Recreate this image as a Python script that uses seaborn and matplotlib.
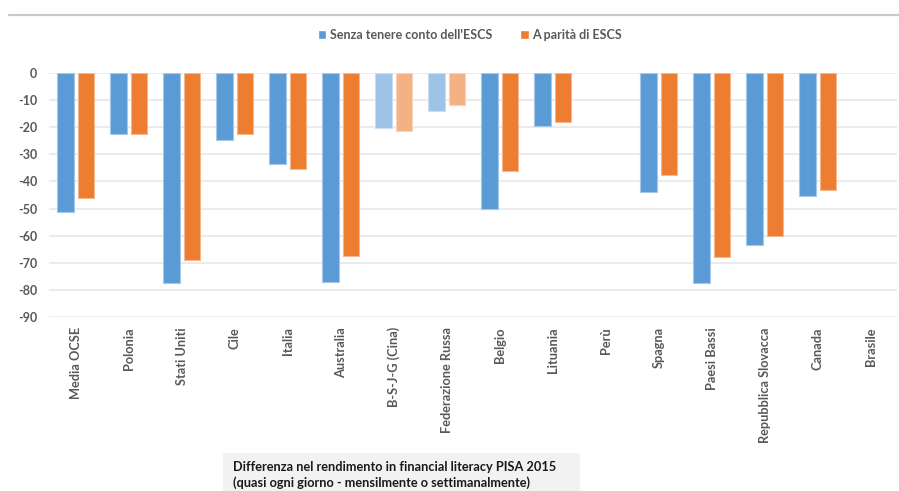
import matplotlib
matplotlib.use("Agg")
import matplotlib.pyplot as plt
from matplotlib.lines import Line2D
from matplotlib.patches import Rectangle
import matplotlib.colors as mcolors
import numpy as np
import pandas as pd
import seaborn as sns

# Differenza di punteggio (financial literacy, PISA 2015)
paesi = ["Media OCSE", "Polonia", "Stati Uniti", "Cile", "Italia", "Australia",
         "B-S-J-G (Cina)", "Federazione Russa", "Belgio", "Lituania", "Perù",
         "Spagna", "Paesi Bassi", "Repubblica Slovacca", "Canada", "Brasile"]
senza_escs = [-51.4, -22.7, -77.4, -24.6, -33.6, -76.9, -20.3, -14.2, -50.0,
              -19.5, np.nan, -43.8, -77.3, -63.4, -45.4, np.nan]
parita_escs = [-46.1, -22.7, -68.9, -22.7, -35.4, -67.3, -21.3, -11.8, -36.2,
               -18.0, np.nan, -37.8, -67.9, -60.1, -43.2, np.nan]
serie = ["Senza tenere conto dell'ESCS", "A parità di ESCS"]
paesi_chiari = ["B-S-J-G (Cina)", "Federazione Russa"]
y_ticks = list(range(0, -91, -10))

BLU = "#5B9BD5"
ARANCIO = "#ED7D31"
BLU_CHIARO = "#9DC3E6"
ARANCIO_CHIARO = "#F4B183"
GRIGIO_TESTO = "#595959"

df = pd.DataFrame({
    "Paese": paesi * 2,
    "Valore": senza_escs + parita_escs,
    "Serie": [serie[0]] * len(paesi) + [serie[1]] * len(paesi),
})

sns.set_style("white")
plt.rcParams["font.family"] = ["Lato", "DejaVu Sans"]

fig = plt.figure(figsize=(8.99, 4.91), dpi=100)
W, H = 899, 491
ax = fig.add_axes([49.3 / W, 1 - 317.3 / H, (897.3 - 49.3) / W, (317.3 - 72.7) / H])

sns.barplot(data=df, x="Paese", y="Valore", hue="Serie", order=paesi,
            hue_order=serie, palette=[BLU, ARANCIO], width=0.78, gap=0.2,
            errorbar=None, legend=False, ax=ax)


def schiarisci(c, f=0.45):
    r, g, b = mcolors.to_rgb(c)
    return (r + (1 - r) * f, g + (1 - g) * f, b + (1 - b) * f)


for p in ax.patches:
    h = p.get_height()
    if not np.isfinite(h):
        continue
    cx = p.get_x() + p.get_width() / 2
    idx = int(round(cx))
    primo = cx < idx
    if paesi[idx] in paesi_chiari:
        col = BLU_CHIARO if primo else ARANCIO_CHIARO
    else:
        col = BLU if primo else ARANCIO
    p.set_facecolor(col)
    p.set_edgecolor(schiarisci(col))
    p.set_linewidth(0.8)

ax.set_ylim(-90, 0)
ax.set_xlim(-0.5, len(paesi) - 0.5)
ax.set_yticks(y_ticks)
ax.set_yticklabels([str(t) for t in y_ticks])
ax.yaxis.grid(True, color="#E8E8E8", linewidth=1.2)
ax.xaxis.grid(False)
ax.set_axisbelow(True)
for s in ax.spines.values():
    s.set_visible(False)
ax.set_xlabel("")
ax.set_ylabel("")
ax.tick_params(axis="y", length=0, pad=8.5, labelsize=9, labelcolor=GRIGIO_TESTO)
ax.tick_params(axis="x", length=0, pad=7, labelsize=9.2, labelcolor=GRIGIO_TESTO,
               labelrotation=90)
for lab in ax.get_yticklabels() + ax.get_xticklabels():
    lab.set_fontweight("bold")
for lab in ax.get_xticklabels():
    lab.set_va("top")

# legenda in alto
maniglie = [Rectangle((0, 0), 1, 1, facecolor=BLU), Rectangle((0, 0), 1, 1, facecolor=ARANCIO)]
leg = fig.legend(maniglie, serie, loc="center", bbox_to_anchor=(470 / W, 1 - 35 / H),
                 ncol=2, frameon=False, handlelength=0.7, handleheight=0.7,
                 handletextpad=0.3, columnspacing=2.2,
                 prop={"size": 9, "weight": "bold"})
for t in leg.get_texts():
    t.set_color(GRIGIO_TESTO)

# linea superiore
fig.add_artist(Line2D([9 / W, 1], [1 - 15 / H] * 2, color="#C9C9C9", linewidth=1.6))

# riquadro con il titolo in basso
fig.add_artist(Rectangle((223 / W, 0), (580 - 223) / W, (491 - 453) / H,
                         transform=fig.transFigure, facecolor="#F2F2F2",
                         edgecolor="none"))
fig.text(233 / W, 1 - 467 / H,
         "Differenza nel rendimento in financial literacy PISA 2015",
         ha="left", va="center", fontsize=9.2, fontweight="bold", color="#1a1a1a")
fig.text(233 / W, 1 - 482.5 / H,
         "(quasi ogni giorno - mensilmente o settimanalmente)",
         ha="left", va="center", fontsize=9.2, fontweight="bold", color="#1a1a1a")

fig.savefig("out.png", dpi=100)
